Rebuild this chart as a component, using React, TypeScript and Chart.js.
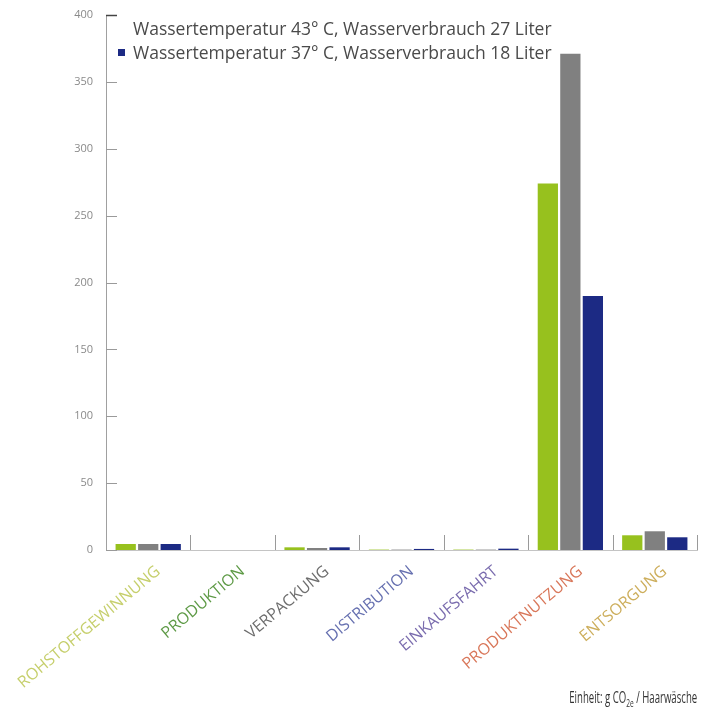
import React, { useEffect, useRef } from "react";
import { Chart, registerables } from "chart.js";

Chart.register(...registerables);

const categories = [
  "ROHSTOFFGEWINNUNG",
  "PRODUKTION",
  "VERPACKUNG",
  "DISTRIBUTION",
  "EINKAUFSFAHRT",
  "PRODUKTNUTZUNG",
  "ENTSORGUNG",
];
const categoryColors = ["#c6cf6c", "#5e9a46", "#6e6e6e", "#6670b0", "#7a6cae", "#d9775a", "#cdae5c"];

const seriesBase = [4.5, 0, 2, 0.3, 0.3, 274, 11];
const series43 = [4.5, 0, 1.5, 0.3, 0.3, 371, 14];
const series37 = [4.5, 0, 2, 0.8, 1, 190, 9.5];

const legendLabels = [
  "Wassertemperatur 43° C, Wasserverbrauch 27 Liter",
  "Wassertemperatur 37° C, Wasserverbrauch 18 Liter",
];
const yTicks = [0, 50, 100, 150, 200, 250, 300, 350, 400];

const GREEN = "#97c11e";
const GRAY = "#808080";
const NAVY = "#1c2a84";

const markPlugin = {
  id: "marks",
  afterDatasetsDraw(chart: any) {
    const { ctx, chartArea, scales } = chart;
    const x = scales.x;
    const y = scales.y;
    ctx.save();
    yTicks.forEach((v) => {
      const py = Math.round(y.getPixelForValue(v)) + 0.5;
      ctx.strokeStyle = v === 400 ? "#444" : "#9a9a9a";
      ctx.lineWidth = v === 400 ? 1.5 : 1;
      ctx.beginPath();
      ctx.moveTo(chartArea.left, py);
      ctx.lineTo(chartArea.left + 11, py);
      ctx.stroke();
    });
    const half = (x.getPixelForValue(1) - x.getPixelForValue(0)) / 2;
    ctx.strokeStyle = "#9a9a9a";
    ctx.lineWidth = 1;
    for (let i = 0; i < categories.length; i++) {
      const px = Math.round(x.getPixelForValue(i) + half) + 0.5;
      ctx.beginPath();
      ctx.moveTo(px, chartArea.bottom);
      ctx.lineTo(px, chartArea.bottom - 15);
      ctx.stroke();
    }
    ctx.restore();
  },
};

export default function App() {
  const ref = useRef<HTMLCanvasElement | null>(null);

  useEffect(() => {
    if (!ref.current) return;
    const chart = new Chart(ref.current, {
      type: "bar",
      data: {
        labels: categories,
        datasets: [
          { label: "Basis", data: seriesBase, backgroundColor: GREEN },
          { label: legendLabels[0], data: series43, backgroundColor: GRAY },
          { label: legendLabels[1], data: series37, backgroundColor: NAVY },
        ],
      },
      options: {
        animation: false,
        responsive: true,
        maintainAspectRatio: false,
        layout: { padding: { left: 0, top: 15, right: 4, bottom: 0 } },
        datasets: { bar: { categoryPercentage: 0.8, barPercentage: 0.9 } },
        plugins: {
          legend: { display: false },
          tooltip: { enabled: false },
        },
        scales: {
          x: {
            offset: true,
            grid: { display: false, drawTicks: false },
            border: { display: true, color: "#c4c4c4", width: 1 },
            ticks: {
              autoSkip: false,
              maxRotation: 40,
              minRotation: 40,
              padding: 12,
              labelOffset: 10,
              color: categoryColors,
              font: { family: "'Open Sans'", size: 16 },
            },
            afterFit: (s: any) => {
              s.height = 177;
              s.paddingLeft = 0;
              s.paddingRight = 0;
            },
          },
          y: {
            min: 0,
            max: 400,
            grid: { display: false, drawTicks: false },
            border: { display: true, color: "#a0a0a0", width: 1 },
            ticks: {
              stepSize: 50,
              padding: 13,
              color: "#8a8a8a",
              font: { family: "'Open Sans'", size: 11 },
            },
            afterFit: (s: any) => {
              s.width = 106;
              s.paddingTop = 0;
              s.paddingBottom = 0;
            },
          },
        },
      },
      plugins: [markPlugin],
    });
    return () => chart.destroy();
  }, []);

  return (
    <div
      style={{
        position: "absolute",
        left: 0,
        top: 0,
        width: 701,
        height: 727,
        background: "#fff",
        overflow: "hidden",
      }}
    >
      <canvas ref={ref} />
      <div
        style={{
          position: "absolute",
          left: 133,
          top: 16,
          fontFamily: "'Open Sans', sans-serif",
          fontSize: 17.5,
          color: "#4a4a4a",
          lineHeight: "24px",
          whiteSpace: "nowrap",
        }}
      >
        <div>{legendLabels[0]}</div>
        <div style={{ position: "relative" }}>
          <span
            style={{
              position: "absolute",
              left: -15,
              top: 9,
              width: 7,
              height: 7,
              background: NAVY,
            }}
          />
          {legendLabels[1]}
        </div>
      </div>
      <div
        style={{
          position: "absolute",
          right: 4,
          top: 686,
          fontFamily: "'Open Sans', sans-serif",
          fontSize: 16,
          color: "#333",
          whiteSpace: "nowrap",
          transform: "scaleX(0.6)",
          transformOrigin: "right center",
        }}
      >
        Einheit: g CO<sub style={{ fontSize: 11 }}>2e</sub> / Haarwäsche
      </div>
    </div>
  );
}
